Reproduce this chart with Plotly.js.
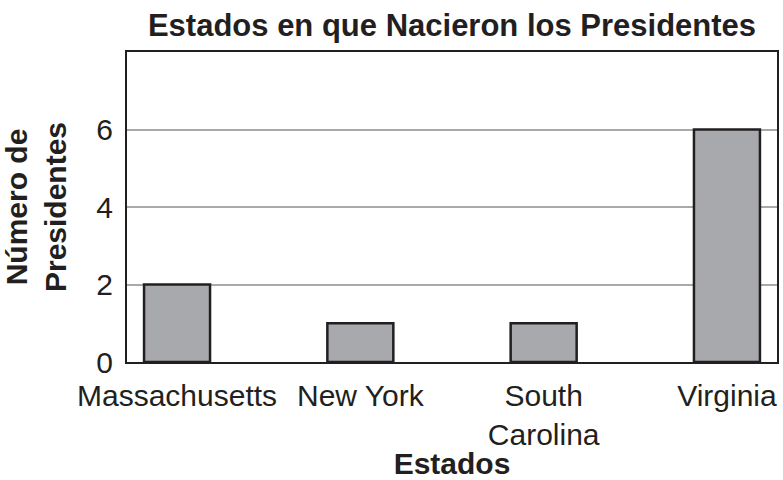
<!DOCTYPE html>
<html>
<head>
<meta charset="utf-8">
<script src="https://cdn.plot.ly/plotly-3.0.1.min.js"></script>
<style>html,body{margin:0;padding:0;background:#fff;}#chart{width:783px;height:480px;}</style>
</head>
<body>
<div id="chart"></div>
<script>
const estados = ["Massachusetts", "New York", "South<br>Carolina", "Virginia"];
const presidentes = [2, 1, 1, 6];
const yTicks = [0, 2, 4, 6];

const font = "Arial, 'Liberation Sans', Helvetica, sans-serif";
const ink = "#231f20";
const trace = {
  type: "bar",
  x: estados,
  y: presidentes,
  width: 0.36,
  marker: {color: "#a7a9ac", line: {color: ink, width: 2.5}},
  hoverinfo: "x+y"
};
const layout = {
  width: 783, height: 480,
  margin: {l: 127, r: 6, t: 52, b: 118},
  paper_bgcolor: "#fff", plot_bgcolor: "#fff",
  showlegend: false,
  title: {text: "<b>Estados en que Nacieron los Presidentes</b>", font: {family: font, size: 31, color: ink},
          xref: "paper", x: 0.5, xanchor: "center", yref: "container", y: 0.948, yanchor: "middle"},
  xaxis: {
    type: "category", range: [-0.273, 3.273],
    showline: true, mirror: true, linecolor: ink, linewidth: 2,
    showgrid: false, ticks: "", ticklabelstandoff: 6, tickfont: {family: font, size: 30, color: ink},
    title: {text: "<b>Estados</b>", font: {family: font, size: 30, color: ink}, standoff: 2},
    automargin: false
  },
  yaxis: {
    range: [0, 8], tickvals: yTicks, ticktext: yTicks.map(String),
    showline: true, mirror: true, linecolor: ink, linewidth: 2,
    showgrid: true, gridcolor: "#a7a9ac", gridwidth: 2, zeroline: false,
    ticks: "", ticklabelstandoff: 6, tickfont: {family: font, size: 30, color: ink},
    title: {text: "<b>Número de<br>Presidentes</b>", font: {family: font, size: 30, color: ink}, standoff: 28},
    automargin: false
  }
};
Plotly.newPlot("chart", [trace], layout, {displayModeBar: false, staticPlot: true});
</script>
</body>
</html>
